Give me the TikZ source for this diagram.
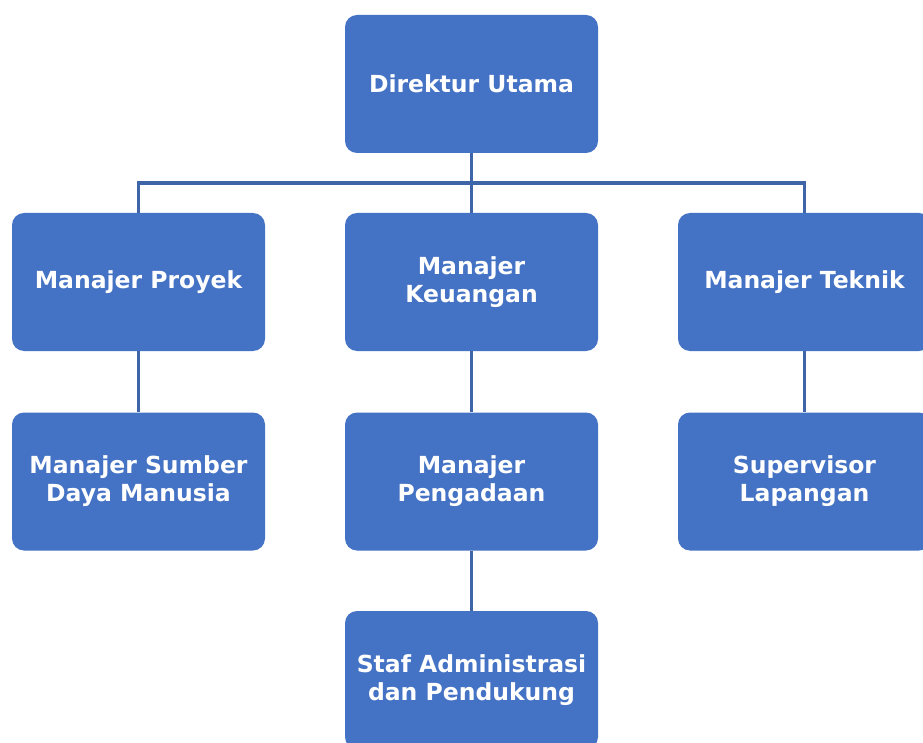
\documentclass[tikz,border=0pt]{standalone}
\usepackage{fontspec}
\setmainfont{DejaVu Sans}
\usepackage{xcolor}
\definecolor{boxblue}{HTML}{4472C4}
\definecolor{lineblue}{HTML}{3E65A8}

\begin{document}
\begin{tikzpicture}[x=1pt,y=-1pt,every node/.style={shape=rectangle,rounded corners=12pt,fill=boxblue,text=white,minimum width=253pt,minimum height=138pt,inner sep=0pt,align=center,font=\fontsize{23.5}{28}\selectfont\bfseries},link/.style={draw=lineblue,line width=3.2pt}]
          \clip (0,0) rectangle (923,743);
          \fill[white] (0,0) rectangle (923,743);
          \node (dir) at (471.5,84) {Direktur Utama};
          \node (proyek) at (138.5,282) {Manajer Proyek};
          \node (keu) at (471.5,282) {Manajer\\Keuangan};
          \node (teknik) at (804.5,282) {Manajer Teknik};
          \node (sdm) at (138.5,481.5) {Manajer Sumber\\Daya Manusia};
          \node (pengadaan) at (471.5,481.5) {Manajer\\Pengadaan};
          \node (supervisor) at (804.5,481.5) {Supervisor\\Lapangan};
          \node (staf) at (471.5,680) {Staf Administrasi\\dan Pendukung};
          \coordinate (fork) at (471.5,183);
          \draw[link] (dir) -- (keu);
          \draw[link] (proyek.north) |- (fork) -| (teknik.north);
          \draw[link] (proyek) -- (sdm);
          \draw[link] (keu) -- (pengadaan);
          \draw[link] (teknik) -- (supervisor);
          \draw[link] (pengadaan) -- (staf);
    \end{tikzpicture}
\end{document}
